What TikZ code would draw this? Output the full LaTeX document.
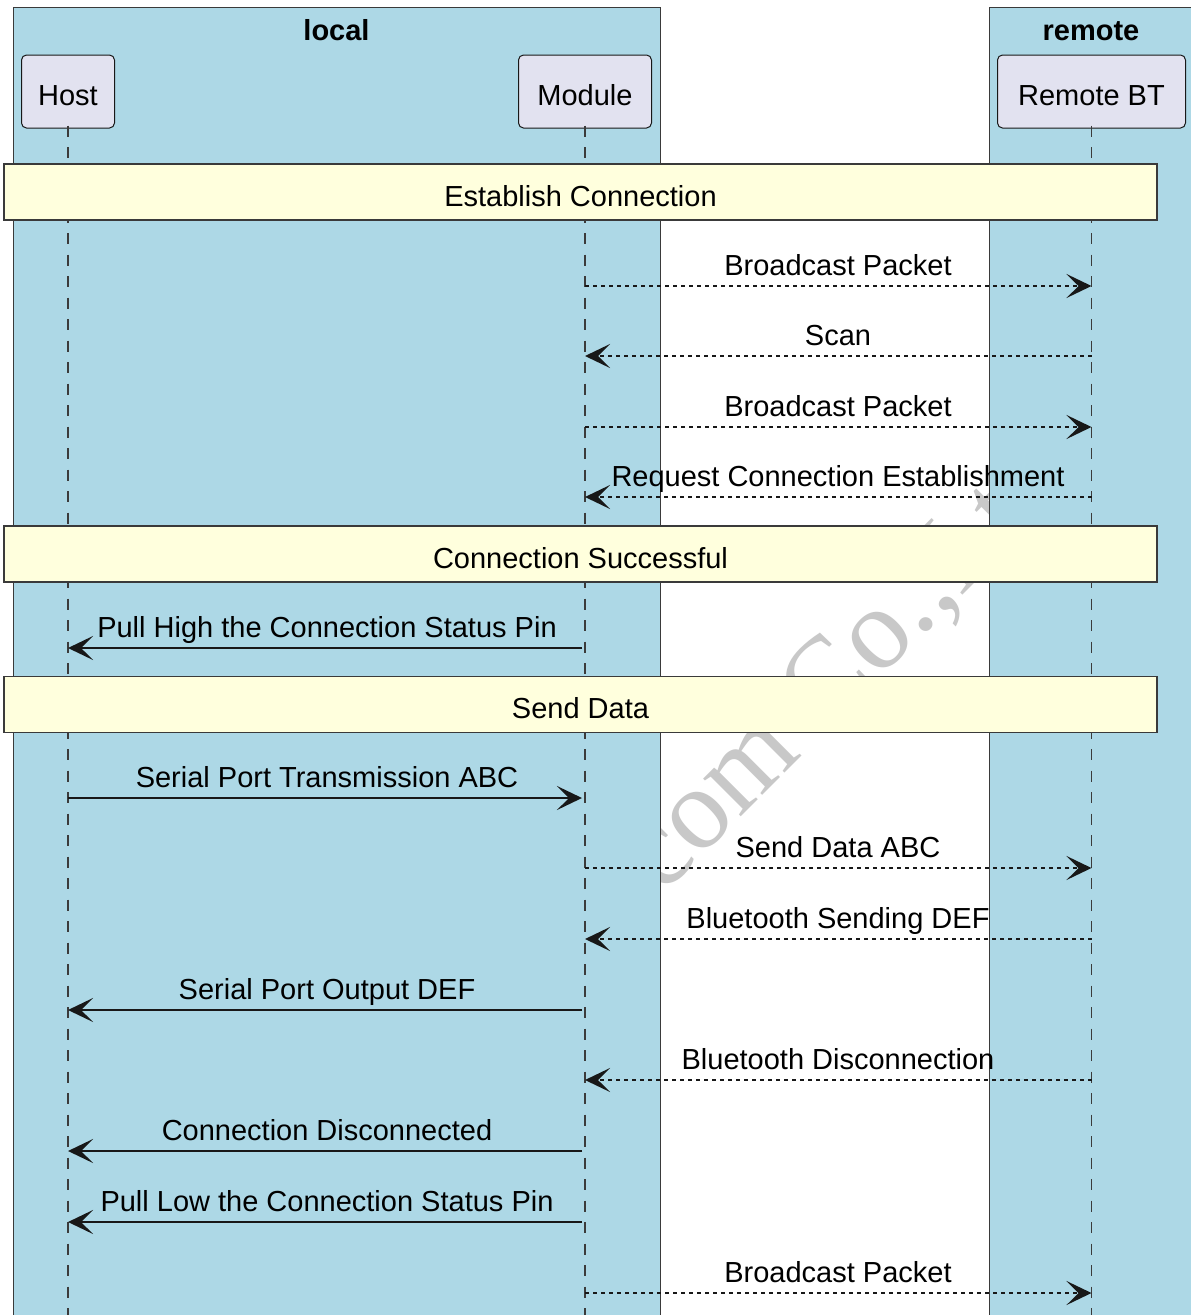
\documentclass[tikz,border=0pt]{standalone}
\usepackage{fontspec}
\setmainfont{Liberation Sans}
\newfontfamily\wmfont{Liberation Serif}
\usetikzlibrary{arrows.meta}
\definecolor{grpblue}{HTML}{ADD8E6}
\definecolor{partfill}{HTML}{E2E2F0}
\definecolor{bandfill}{HTML}{FFFFDD}
\definecolor{ink}{HTML}{181818}
\definecolor{edge}{HTML}{3A3A3A}
\definecolor{wmgray}{HTML}{C8C8C8}
\newcommand{\dfont}{\fontsize{29}{34}\selectfont}
\tikzset{
  grp/.style={fill=grpblue, draw=edge, line width=1pt},
  grptitle/.style={font=\dfont\bfseries, anchor=base, inner sep=0pt},
  part/.style={draw=ink, fill=partfill, rounded corners=5pt, line width=1pt,
    minimum height=73pt, inner sep=0pt, font=\dfont, text height=33pt, text depth=6pt},
  life/.style={draw=ink!85, line width=1.2pt, dash pattern=on 11pt off 10.5pt},
  band/.style={draw=edge, fill=bandfill, line width=1.5pt, minimum width=1153pt,
    minimum height=56pt, inner sep=0pt, font=\dfont, text height=34pt, text depth=6pt},
  syncmsg/.style={draw=ink, line width=2pt, -{Stealth[length=25pt,width=24pt,inset=12pt]}},
  asyncmsg/.style={syncmsg, line width=2.2pt, dash pattern=on 4pt off 4pt},
  lbl/.style={font=\dfont, anchor=base, inner sep=0pt},
  wm/.style={font=\wmfont\fontsize{116}{116}\selectfont, text=wmgray, inner sep=0pt}
}
\begin{document}
\begin{tikzpicture}[x=1pt,y=-1pt]
\useasboundingbox (0,0) rectangle (1191,1315);
\fill[white] (0,0) rectangle (1191,1315);
% watermark (partly hidden behind the boxes)
\node[wm, rotate=45, anchor=base west] (wmark) at (662,896) {com Co.,Ltd};
% groups
\draw[grp] (13,7) rectangle (660,1330);
\draw[grp] (989,7) rectangle (1210,1330);
\node[grptitle] (tlocal) at (336.5,40) {local};
\node[grptitle] (tremote) at (1091,40) {remote};
% participants
\node[part, minimum width=93pt] (host) at (68,91.5) {Host};
\node[part, minimum width=133pt] (module) at (585,91.5) {Module};
\node[part, minimum width=188pt] (remote) at (1091.5,91.5) {Remote BT};
\coordinate (bottom) at (0,1320);
\draw[life] ([yshift=3pt]host.south) -- (host.south |- bottom);
\draw[life] ([yshift=3pt]module.south) -- (module.south |- bottom);
\draw[life] ([yshift=3pt]remote.south) -- (remote.south |- bottom);
% dividers
\node[band] (b1) at (580.5,192) {Establish Connection};
\node[band] (b2) at (580.5,554) {Connection Successful};
\node[band] (b3) at (580.5,704.5) {Send Data};
% message rows
\coordinate (r1) at (0,286);
\coordinate (r2) at (0,356);
\coordinate (r3) at (0,427);
\coordinate (r4) at (0,497);
\coordinate (r5) at (0,648);
\coordinate (r6) at (0,798);
\coordinate (r7) at (0,868);
\coordinate (r8) at (0,939);
\coordinate (r9) at (0,1010);
\coordinate (r10) at (0,1080);
\coordinate (r11) at (0,1151);
\coordinate (r12) at (0,1222);
\coordinate (r13) at (0,1293);
% messages
\draw[asyncmsg] (module.center |- r1) -- (remote.center |- r1);
\node[lbl] (l1) at (838,275.5) {Broadcast Packet};
\draw[asyncmsg] (remote.center |- r2) -- (module.center |- r2);
\node[lbl] (l2) at (838,345.5) {Scan};
\draw[asyncmsg] (module.center |- r3) -- (remote.center |- r3);
\node[lbl] (l3) at (838,416.5) {Broadcast Packet};
\draw[asyncmsg] (remote.center |- r4) -- (module.center |- r4);
\node[lbl] (l4) at (838,486.5) {Request Connection Establishment};
\draw[syncmsg] ([xshift=-3pt]module.center |- r5) -- (host.center |- r5);
\node[lbl] (l5) at (327,637.5) {Pull High the Connection Status Pin};
\draw[syncmsg] (host.center |- r6) -- ([xshift=-3pt]module.center |- r6);
\node[lbl] (l6) at (327,787.5) {Serial Port Transmission ABC};
\draw[asyncmsg] (module.center |- r7) -- (remote.center |- r7);
\node[lbl] (l7) at (838,857.5) {Send Data ABC};
\draw[asyncmsg] (remote.center |- r8) -- (module.center |- r8);
\node[lbl] (l8) at (838,928.5) {Bluetooth Sending DEF};
\draw[syncmsg] ([xshift=-3pt]module.center |- r9) -- (host.center |- r9);
\node[lbl] (l9) at (327,999.5) {Serial Port Output DEF};
\draw[asyncmsg] (remote.center |- r10) -- (module.center |- r10);
\node[lbl] (l10) at (838,1069.5) {Bluetooth Disconnection};
\draw[syncmsg] ([xshift=-3pt]module.center |- r11) -- (host.center |- r11);
\node[lbl] (l11) at (327,1140.5) {Connection Disconnected};
\draw[syncmsg] ([xshift=-3pt]module.center |- r12) -- (host.center |- r12);
\node[lbl] (l12) at (327,1211.5) {Pull Low the Connection Status Pin};
\draw[asyncmsg] (module.center |- r13) -- (remote.center |- r13);
\node[lbl] (l13) at (838,1282.5) {Broadcast Packet};
\end{tikzpicture}
\end{document}
